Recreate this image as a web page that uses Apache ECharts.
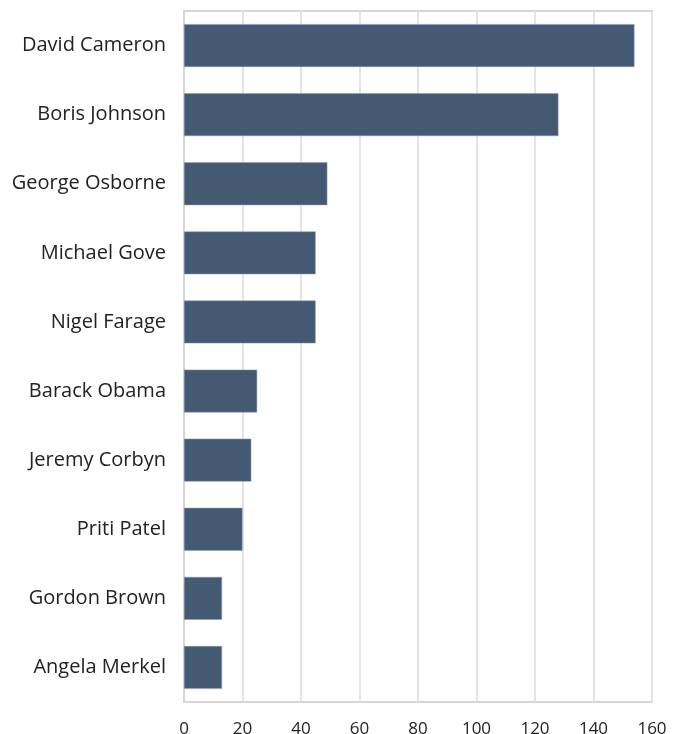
<!DOCTYPE html>
<html>
<head>
<meta charset="utf-8">
<script src="https://cdn.jsdelivr.net/npm/echarts@6/dist/echarts.min.js"></script>
<style>
	html, body { margin: 0; padding: 0; background: #fff; }
	#chart { width: 682px; height: 734px; }
</style>
</head>
<body>
<div id="chart"></div>
<script>
var names = ['David Cameron', 'Boris Johnson', 'George Osborne', 'Michael Gove', 'Nigel Farage',
	'Barack Obama', 'Jeremy Corbyn', 'Priti Patel', 'Gordon Brown', 'Angela Merkel'];
var counts = [154, 128, 49, 45, 45, 25, 23, 20, 13, 13];
var xTicks = [0, 20, 40, 60, 80, 100, 120, 140, 160];

(function(){
	var myChart = echarts.init(document.getElementById('chart'));
	var option = {
		animation: false,
		grid: {
			left: 184,
			right: 30,
			top: 11,
			bottom: 32,
			outerBoundsMode: 'none',
			show: true,
			borderColor: '#d6d6d6',
			borderWidth: 2
		},
		xAxis: {
			type: 'value',
			min: xTicks[0],
			max: xTicks[xTicks.length - 1],
			interval: 20,
			axisLine: { show: false },
			axisTick: { show: false },
			splitLine: { lineStyle: { color: '#e4e4e4', width: 2 } },
			axisLabel: {
				margin: 19,
				color: '#222',
				fontSize: 17,
				fontFamily: 'Open Sans'
			}
		},
		yAxis: {
			type: 'category',
			data: names,
			inverse: true,
			axisLine: { show: true, lineStyle: { color: '#d6d6d6', width: 2 } },
			axisTick: { show: false },
			axisLabel: {
				margin: 18,
				color: '#222',
				fontSize: 20,
				fontFamily: 'Open Sans'
			}
		},
		series: [
			{
				type: 'bar',
				data: counts,
				barCategoryGap: '38%',
				itemStyle: {
					color: '#445a73',
					borderColor: '#8a9bb0',
					borderWidth: 0.5
				}
			}
		]
	};
	myChart.setOption(option);
	window.addEventListener('resize', function() {
		myChart.resize();
	});
})();
</script>
</body>
</html>
